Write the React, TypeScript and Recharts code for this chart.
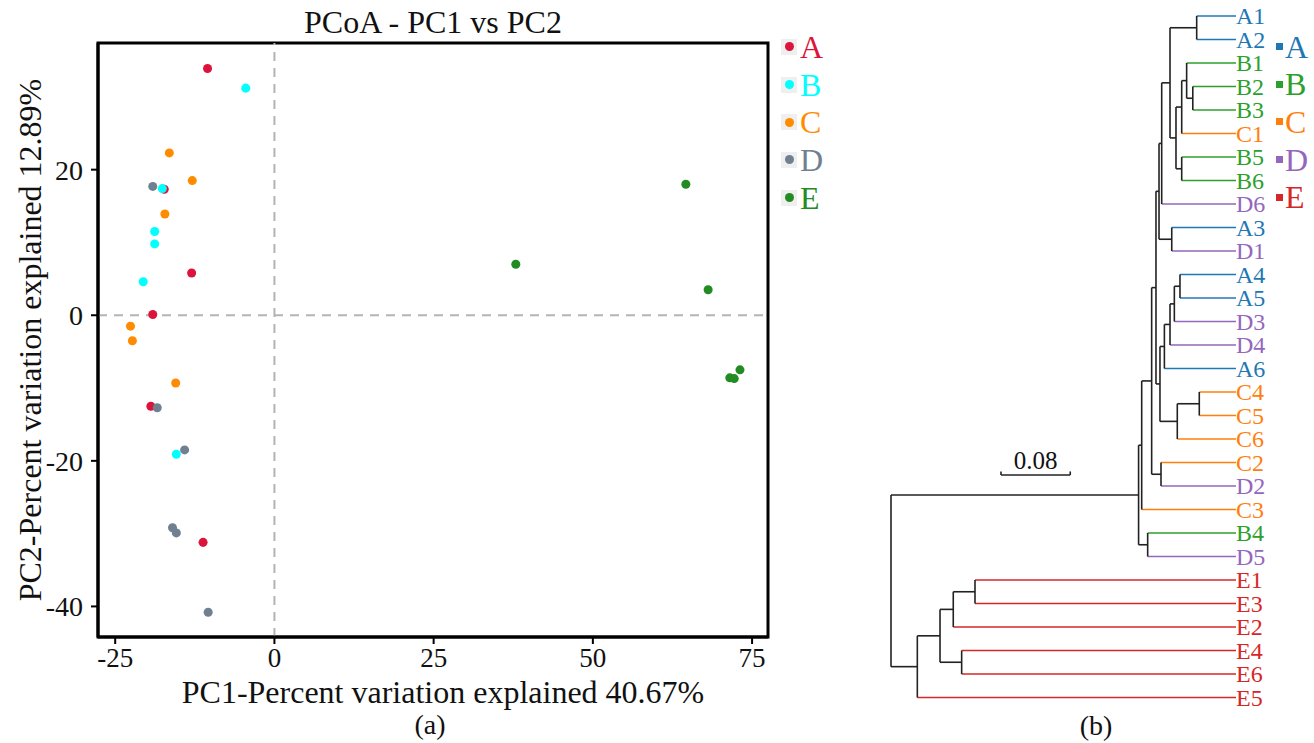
import {
  Legend,
  ReferenceArea,
  ReferenceLine,
  Scatter,
  ScatterChart,
  XAxis,
  YAxis,
  ZAxis,
} from "recharts";

const FONT = '"Liberation Serif", "Times New Roman", Times, serif';

// PCoA scores [PC1, PC2] per group
const groups = ["A", "B", "C", "D", "E"];
const pcoaColors = ["#dc143c", "#00ffff", "#ff8c00", "#708090", "#228b22"];
const scoresA = [[-10.5, 33.9], [-17.3, 17.3], [-13.0, 5.8], [-19.1, 0.1], [-19.4, -12.5], [-11.2, -31.2]];
const scoresB = [[-4.5, 31.2], [-17.6, 17.4], [-18.8, 11.5], [-18.8, 9.8], [-20.6, 4.6], [-15.4, -19.1]];
const scoresC = [[-16.5, 22.3], [-12.9, 18.5], [-17.2, 13.9], [-22.6, -1.5], [-22.3, -3.5], [-15.5, -9.3]];
const scoresD = [[-19.1, 17.7], [-18.4, -12.7], [-14.1, -18.5], [-16.0, -29.2], [-15.4, -29.9], [-10.4, -40.8]];
const scoresE = [[64.6, 18.0], [37.9, 7.0], [68.1, 3.5], [73.1, -7.5], [71.5, -8.6], [72.2, -8.7]];
const pc1Ticks = [-25, 0, 25, 50, 75];
const pc2Ticks = [-40, -20, 0, 20];
const pc1Domain = [-27.7, 77.5];
const pc2Domain = [-44.2, 37.4];

// dendrogram: leaves top to bottom, clades as [name, distance from root, children]
const leaves = [
  "A1", "A2", "B1", "B2", "B3", "C1", "B5", "B6", "D6", "A3",
  "D1", "A4", "A5", "D3", "D4", "A6", "C4", "C5", "C6", "C2",
  "D2", "C3", "B4", "D5", "E1", "E3", "E2", "E4", "E6", "E5",
];
const treeColors = ["#1f77b4", "#2ca02c", "#ff7f0e", "#9467bd", "#d62728"];
const tipHeight = 0.3984;
const clades: [string, number, string[]][] = [
  ["a12", 0.353, ["A1", "A2"]],
  ["b23", 0.3485, ["B2", "B3"]],
  ["b123", 0.3414, ["B1", "b23"]],
  ["bc1", 0.3357, ["b123", "C1"]],
  ["b56", 0.3357, ["B5", "B6"]],
  ["bcb", 0.3291, ["bc1", "b56"]],
  ["ab", 0.3222, ["a12", "bcb"]],
  ["abd6", 0.3126, ["ab", "D6"]],
  ["a3d1", 0.3242, ["A3", "D1"]],
  ["upper", 0.3095, ["abd6", "a3d1"]],
  ["a45", 0.3337, ["A4", "A5"]],
  ["a45d3", 0.3272, ["a45", "D3"]],
  ["ad4", 0.3222, ["a45d3", "D4"]],
  ["aa6", 0.3157, ["ad4", "A6"]],
  ["c45", 0.356, ["C4", "C5"]],
  ["c456", 0.3306, ["c45", "C6"]],
  ["ac", 0.3106, ["aa6", "c456"]],
  ["upac", 0.306, ["upper", "ac"]],
  ["c2d2", 0.3118, ["C2", "D2"]],
  ["mid", 0.301, ["upac", "c2d2"]],
  ["midc3", 0.2895, ["mid", "C3"]],
  ["b4d5", 0.2964, ["B4", "D5"]],
  ["ingroup", 0.2859, ["midc3", "b4d5"]],
  ["e13", 0.097, ["E1", "E3"]],
  ["e132", 0.0719, ["e13", "E2"]],
  ["e46", 0.0816, ["E4", "E6"]],
  ["e1to6", 0.0566, ["e132", "e46"]],
  ["eall", 0.0304, ["e1to6", "E5"]],
  ["root", 0, ["ingroup", "eall"]],
];
const scaleBar = { from: 0.127, length: 0.08, row: 19.53 };

const toPoints = (rows: number[][]) => rows.map(([pc1, pc2]) => ({ pc1, pc2 }));
const pcoaSeries = [scoresA, scoresB, scoresC, scoresD, scoresE].map(toPoints);

const cladeMap = new Map(clades.map((c) => [c[0], c]));
const leafColor = (name: string) => treeColors[groups.indexOf(name[0])];
const rowOf = (id: string): number => {
  if (leaves.includes(id)) return leaves.indexOf(id);
  const kids = cladeMap.get(id)![2];
  return (rowOf(kids[0]) + rowOf(kids[kids.length - 1])) / 2;
};

type Seg = { x1: number; y1: number; x2: number; y2: number; color: string };
const segments: Seg[] = [];
clades.forEach(([, h, kids]) => {
  const rows = kids.map(rowOf);
  kids.forEach((k, i) => {
    const isLeaf = leaves.includes(k);
    const end = isLeaf ? tipHeight : cladeMap.get(k)![1];
    segments.push({ x1: h, y1: rows[i], x2: end, y2: rows[i], color: isLeaf ? leafColor(k) : "#222" });
  });
  segments.push({ x1: h, y1: Math.min(...rows), x2: h, y2: Math.max(...rows), color: "#222" });
});

// tip and node positions, so the tree axes have data to scale
const treeNodes = [
  ...leaves.map((name, i) => ({ name, x: tipHeight, y: i })),
  ...clades.map(([name, h]) => ({ name, x: h, y: rowOf(name) })),
];

const PcoaLegend = (props: any) => {
  const items = props.payload && props.payload.length ? props.payload : groups.map((g, i) => ({ value: g, color: pcoaColors[i] }));
  return (
    <div>
      {items.map((it: any) => (
        <div key={it.value} style={{ display: "flex", alignItems: "center", height: 37.7 }}>
          <span
            style={{
              width: 16,
              height: 16,
              background: "#efefef",
              display: "inline-flex",
              alignItems: "center",
              justifyContent: "center",
            }}
          >
            <span style={{ width: 9, height: 9, borderRadius: "50%", background: it.color }} />
          </span>
          <span style={{ color: it.color, fontFamily: FONT, fontSize: 32, marginLeft: 3, lineHeight: 1 }}>
            {it.value}
          </span>
        </div>
      ))}
    </div>
  );
};

const TreeLegend = () => (
  <div>
    {groups.map((g, i) => (
      <div key={g} style={{ display: "flex", alignItems: "center", height: 37.6 }}>
        <span style={{ width: 7, height: 7, background: treeColors[i] }} />
        <span style={{ color: treeColors[i], fontFamily: FONT, fontSize: 32, marginLeft: 2, lineHeight: 1 }}>
          {g}
        </span>
      </div>
    ))}
  </div>
);

const LeafTick = (props: any) => {
  const name = leaves[props.payload.value];
  if (!name) return null;
  return (
    <text x={props.x - 1} y={props.y} dy="0.35em" fill={leafColor(name)} fontSize={24} fontFamily={FONT}>
      {name}
    </text>
  );
};

const YTitle = (props: any) => {
  const { x, y, height } = props.viewBox;
  const cx = x + 30;
  const cy = y + height / 2;
  return (
    <text x={cx} y={cy} transform={`rotate(-90, ${cx}, ${cy})`} textAnchor="middle" dominantBaseline="central" fontSize={32} fontFamily={FONT} fill="#111">
      PC2-Percent variation explained 12.89%
    </text>
  );
};

const XTitle = (props: any) => {
  const { x, y, width } = props.viewBox;
  return (
    <g>
      <text x={x + width / 2 + 10} y={y + 55} textAnchor="middle" dominantBaseline="central" fontSize={32} fontFamily={FONT} fill="#111">
        PC1-Percent variation explained 40.67%
      </text>
      <text x={430} y={y + 87} textAnchor="middle" dominantBaseline="central" fontSize={28} fontFamily={FONT} fill="#111">
        (a)
      </text>
    </g>
  );
};

const TreeCaption = (props: any) => {
  const { y } = props.viewBox;
  return (
    <text x={226} y={y + 28} textAnchor="middle" dominantBaseline="central" fontSize={28} fontFamily={FONT} fill="#111">
      (b)
    </text>
  );
};

export default function App() {
  return (
    <div style={{ position: "absolute", left: 0, top: 0, width: 1314, height: 743, background: "#fff" }}>
      <div style={{ position: "absolute", left: 0, top: 0 }}>
        <ScatterChart width={860} height={743} margin={{ top: 43, right: 92, bottom: 0, left: 0 }}>
          <XAxis
            type="number"
            dataKey="pc1"
            domain={pc1Domain}
            ticks={pc1Ticks}
            allowDataOverflow
            height={106}
            tickSize={7}
            tickMargin={4}
            axisLine={{ stroke: "#000", strokeWidth: 3 }}
            tickLine={{ stroke: "#000", strokeWidth: 2 }}
            tick={{ fill: "#111", fontSize: 27, fontFamily: FONT }}
            label={<XTitle />}
          />
          <YAxis
            type="number"
            dataKey="pc2"
            domain={pc2Domain}
            ticks={pc2Ticks}
            allowDataOverflow
            width={98}
            tickSize={7}
            tickMargin={8}
            axisLine={{ stroke: "#000", strokeWidth: 3 }}
            tickLine={{ stroke: "#000", strokeWidth: 2 }}
            tick={{ fill: "#111", fontSize: 28, fontFamily: FONT }}
            label={<YTitle />}
          />
          <ZAxis range={[80, 80]} />
          <ReferenceArea
            x1={pc1Domain[0]}
            x2={pc1Domain[1]}
            y1={pc2Domain[0]}
            y2={pc2Domain[1]}
            fill="none"
            stroke="#000"
            strokeWidth={3}
            ifOverflow="visible"
            label={{ value: "PCoA - PC1 vs PC2", position: "top", offset: 10, fontSize: 32, fontFamily: FONT, fill: "#111" }}
          />
          {groups.map((g, i) => (
            <Scatter key={g} name={g} data={pcoaSeries[i]} fill={pcoaColors[i]} isAnimationActive={false} />
          ))}
          <ReferenceLine x={0} stroke="#b4b4b4" strokeWidth={2} strokeDasharray="9 7" />
          <ReferenceLine y={0} stroke="#b4b4b4" strokeWidth={2} strokeDasharray="9 7" />
          <Legend
            layout="vertical"
            align="center"
            verticalAlign="middle"
            wrapperStyle={{ left: 781, top: 28, width: 70 }}
            content={<PcoaLegend />}
          />
        </ScatterChart>
      </div>
      <div style={{ position: "absolute", left: 870, top: 0 }}>
        <ScatterChart width={444} height={743} margin={{ top: 16, right: 0, bottom: 0, left: 21 }}>
          <XAxis
            type="number"
            dataKey="x"
            domain={[0, tipHeight]}
            allowDataOverflow
            height={45.5}
            axisLine={false}
            tickLine={false}
            tick={false}
            label={<TreeCaption />}
          />
          <YAxis
            type="number"
            dataKey="y"
            orientation="right"
            domain={[0, leaves.length - 1]}
            allowDataOverflow
            ticks={leaves.map((_, i) => i)}
            interval={0}
            reversed
            width={78}
            axisLine={false}
            tickLine={false}
            tickSize={0}
            tickMargin={1}
            tick={<LeafTick />}
          />
          <Scatter
            name="nodes"
            data={treeNodes}
            shape={() => <g />}
            legendType="none"
            isAnimationActive={false}
          />
          {segments.map((s, i) => (
            <ReferenceLine
              key={i}
              segment={[{ x: s.x1, y: s.y1 }, { x: s.x2, y: s.y2 }]}
              stroke={s.color}
              strokeWidth={1.6}
              ifOverflow="visible"
            />
          ))}
          <ReferenceLine
            segment={[
              { x: scaleBar.from, y: scaleBar.row },
              { x: scaleBar.from + scaleBar.length, y: scaleBar.row },
            ]}
            stroke="#222"
            strokeWidth={1.6}
            ifOverflow="visible"
            label={{ value: "0.08", position: "top", offset: 6, fontSize: 25, fontFamily: FONT, fill: "#111" }}
          />
          {[scaleBar.from, scaleBar.from + scaleBar.length].map((x) => (
            <ReferenceLine
              key={x}
              segment={[{ x, y: scaleBar.row }, { x, y: scaleBar.row - 0.15 }]}
              stroke="#222"
              strokeWidth={1.6}
              ifOverflow="visible"
            />
          ))}
          <Legend
            layout="vertical"
            align="center"
            verticalAlign="middle"
            wrapperStyle={{ left: 406, top: 28, width: 40 }}
            content={<TreeLegend />}
          />
        </ScatterChart>
      </div>
    </div>
  );
}
